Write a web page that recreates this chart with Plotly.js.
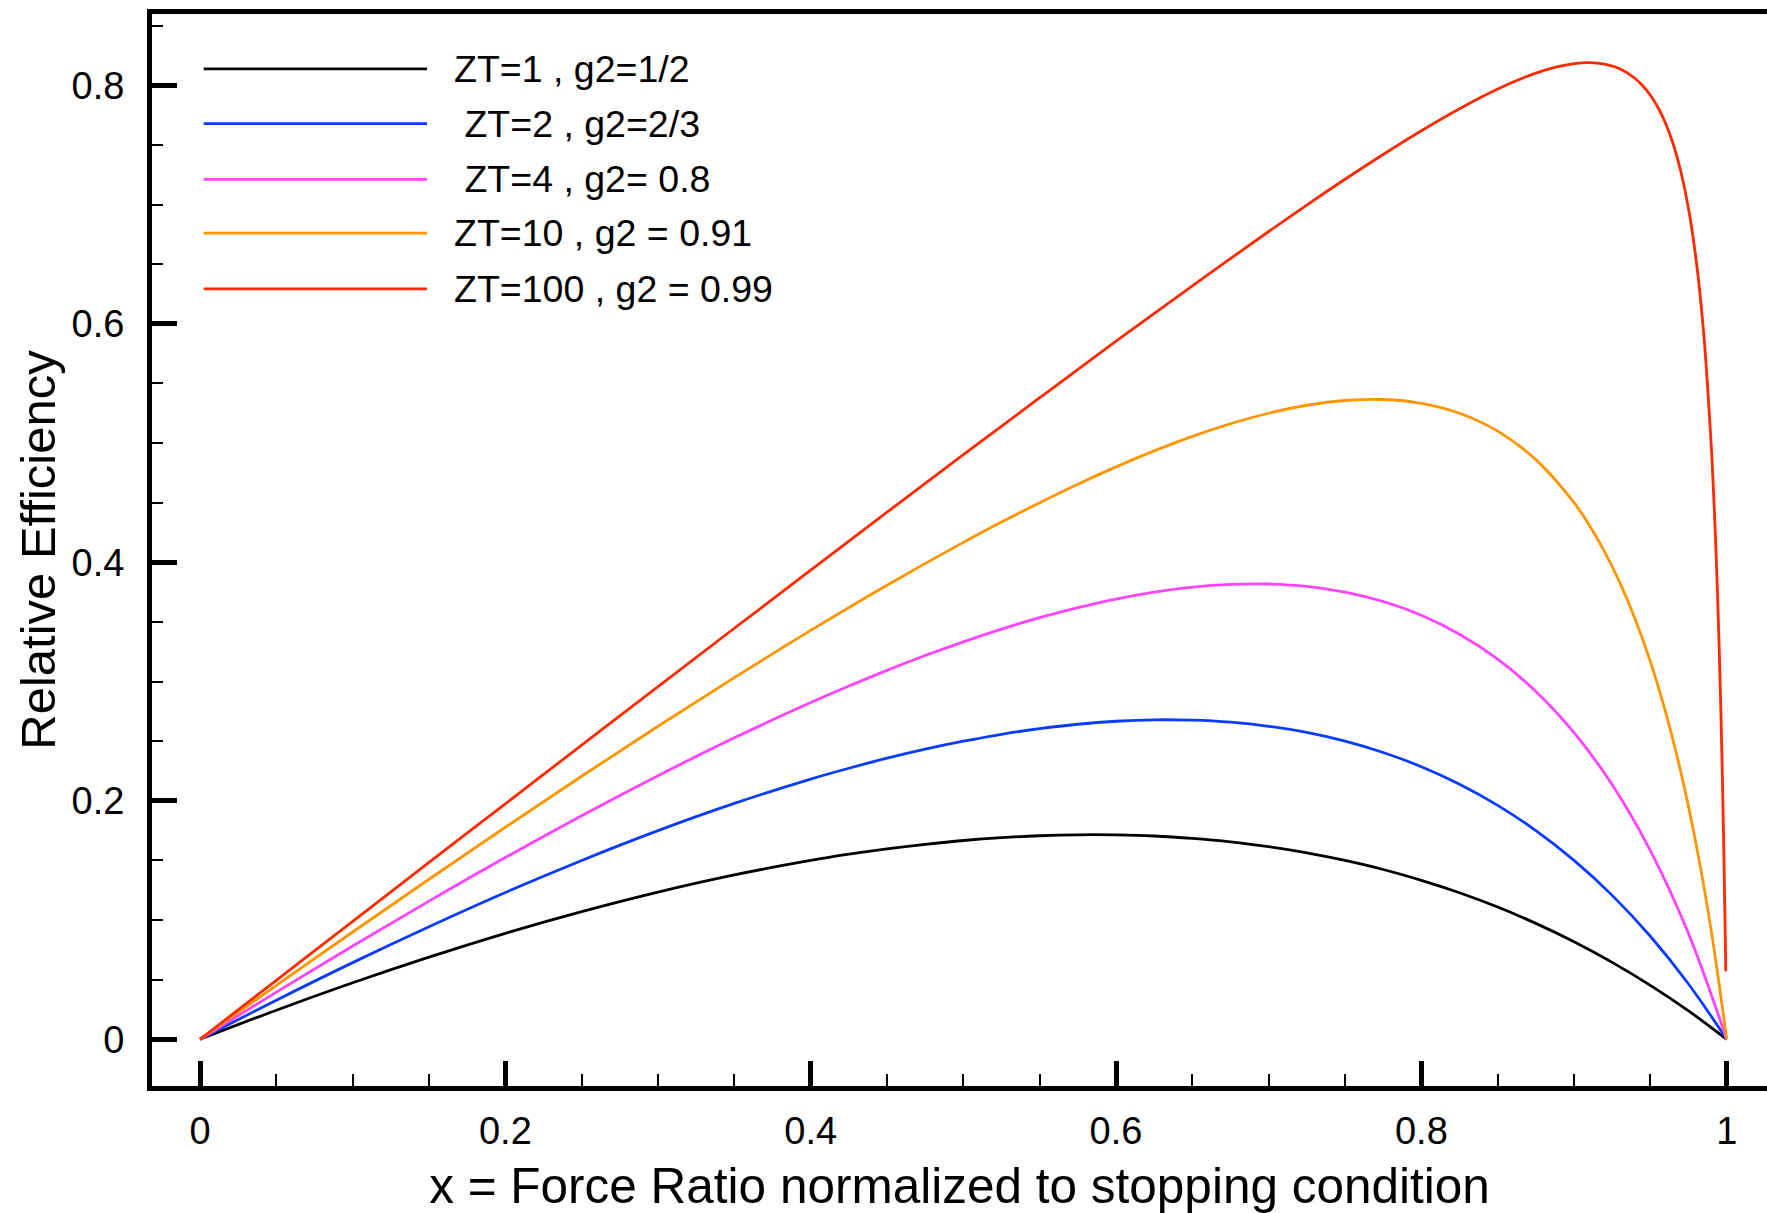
<!DOCTYPE html>
<html>
<head>
<meta charset="utf-8">
<script src="https://cdn.plot.ly/plotly-3.0.1.min.js"></script>
<style>html,body{margin:0;padding:0;background:#fff;}#chart{width:1767px;height:1213px;}</style>
</head>
<body>
<div id="chart"></div>
<script>
// ---- data ----
const xBase = [0,0.05,0.1,0.15,0.2,0.25,0.3,0.35,0.4,0.425,0.45,0.475,0.5,0.525,0.55,0.575,0.6,0.625,0.65,0.675,0.7,0.725,0.75,0.775,0.8,0.825,0.85,0.875,0.9,0.925,0.95,0.975,1];
const effZT1 = [0,0.0244,0.0474,0.0689,0.0889,0.1071,0.1235,0.1379,0.15,0.1552,0.1597,0.1635,0.1667,0.1691,0.1707,0.1715,0.1714,0.1705,0.1685,0.1656,0.1615,0.1564,0.15,0.1424,0.1333,0.1229,0.1109,0.0972,0.0818,0.0645,0.0452,0.0238,0];
const effZT2 = [0,0.0328,0.0643,0.0944,0.1231,0.15,0.175,0.1978,0.2182,0.2273,0.2357,0.2433,0.25,0.2558,0.2605,0.2642,0.2667,0.2679,0.2676,0.2659,0.2625,0.2573,0.25,0.2405,0.2286,0.2139,0.1962,0.175,0.15,0.1207,0.0864,0.0464,0];
const effZT4 = [0,0.0396,0.0783,0.1159,0.1524,0.1875,0.2211,0.2528,0.2824,0.2962,0.3094,0.3218,0.3333,0.344,0.3536,0.362,0.3692,0.375,0.3792,0.3815,0.3818,0.3798,0.375,0.3671,0.3556,0.3397,0.3188,0.2917,0.2571,0.2135,0.1583,0.0886,0];
const xZT10 = [0,0.05,0.1,0.15,0.2,0.25,0.3,0.35,0.4,0.45,0.5,0.525,0.55,0.575,0.6,0.625,0.65,0.675,0.7,0.725,0.75,0.775,0.8,0.825,0.85,0.875,0.9,0.91,0.92,0.93,0.94,0.95,0.96,0.97,0.98,0.99,1];
const effZT10 = [0,0.0452,0.09,0.1342,0.1778,0.2206,0.2625,0.3033,0.3429,0.3808,0.4167,0.4337,0.45,0.4655,0.48,0.4934,0.5056,0.5162,0.525,0.5317,0.5357,0.5365,0.5333,0.525,0.51,0.4861,0.45,0.4311,0.4089,0.3829,0.3525,0.3167,0.2743,0.2238,0.1633,0.09,0];
const xZT100 = [0,0.05,0.1,0.15,0.2,0.25,0.3,0.35,0.4,0.45,0.5,0.55,0.6,0.65,0.7,0.725,0.75,0.775,0.8,0.825,0.85,0.875,0.89,0.9,0.91,0.92,0.93,0.94,0.945,0.95,0.955,0.96,0.965,0.97,0.975,0.98,0.985,0.99,0.991,0.992,0.993,0.994,0.995,0.996,0.997,0.998,0.999,0.9994];
const effZT100 = [0,0.0495,0.0989,0.1483,0.1975,0.2467,0.2958,0.3447,0.3934,0.442,0.4902,0.538,0.5854,0.6319,0.6774,0.6996,0.7212,0.742,0.7619,0.7804,0.7969,0.8102,0.8158,0.8182,0.819,0.8178,0.8138,0.8057,0.7996,0.7917,0.7814,0.768,0.7506,0.7275,0.6964,0.6533,0.591,0.495,0.4694,0.4409,0.4089,0.3728,0.3317,0.2846,0.2301,0.1663,0.0908,0.057];

const seriesNames = ["ZT=1 , g2=1/2", "\u00a0ZT=2 , g2=2/3", "\u00a0ZT=4 , g2= 0.8", "ZT=10 , g2 = 0.91", "ZT=100 , g2 = 0.99"];
const seriesColors = ["#000000", "#0a3cff", "#ff44ff", "#ff9500", "#ff2a00"];
const xTitle = "x = Force Ratio normalized to stopping condition";
const yTitle = "Relative Efficiency";

// ---- plot ----
const xs = [xBase, xBase, xBase, xZT10, xZT100];
const ys = [effZT1, effZT2, effZT4, effZT10, effZT100];
const traces = ys.map((y, i) => ({
  x: xs[i], y: y, type: 'scatter', mode: 'lines', name: seriesNames[i],
  line: {color: seriesColors[i], width: 2.8, shape: 'spline', smoothing: 1},
  showlegend: false, hoverinfo: 'skip'
}));

const font = '"Liberation Sans", Arial, Helvetica, sans-serif';
// legend drawn in paper coordinates
const legY = [0.9489, 0.8978, 0.8457, 0.7955, 0.7435];
const shapes = legY.map((yy, i) => ({
  type: 'line', xref: 'paper', yref: 'paper', x0: 0.032, x1: 0.1703, y0: yy, y1: yy,
  line: {color: seriesColors[i], width: 2.8}
}));
const annotations = legY.map((yy, i) => ({
  xref: 'paper', yref: 'paper', x: 0.1858, y: yy, xanchor: 'left', yanchor: 'middle',
  text: seriesNames[i], showarrow: false, font: {family: font, size: 37.5, color: '#000'}
}));

const layout = {
  width: 1767, height: 1213,
  margin: {l: 152, r: 0, t: 14, b: 127, pad: 0},
  paper_bgcolor: '#fff', plot_bgcolor: '#fff',
  font: {family: font, color: '#000'},
  xaxis: {
    range: [-0.03144, 1.0264], tickmode: 'linear', tick0: 0, dtick: 0.2,
    ticks: 'inside', ticklen: 25, tickwidth: 5, tickcolor: '#000',
    minor: {dtick: 0.05, tick0: 0, ticks: 'inside', ticklen: 12, tickwidth: 2, tickcolor: '#000', showgrid: false},
    showline: true, linewidth: 5, linecolor: '#000', mirror: true,
    showgrid: false, zeroline: false,
    tickfont: {family: font, size: 38, color: '#000'}, ticklabelstandoff: 7,
    title: {text: xTitle, font: {family: font, size: 49.5, color: '#000'}, standoff: 19},
    automargin: false
  },
  yaxis: {
    range: [-0.03916, 0.85979], tickmode: 'linear', tick0: 0, dtick: 0.2,
    ticks: 'inside', ticklen: 25, tickwidth: 5, tickcolor: '#000',
    minor: {dtick: 0.05, tick0: 0, ticks: 'inside', ticklen: 11, tickwidth: 2, tickcolor: '#000', showgrid: false},
    showline: true, linewidth: 5, linecolor: '#000', mirror: false,
    showgrid: false, zeroline: false,
    tickfont: {family: font, size: 38, color: '#000'}, ticklabelstandoff: 15,
    title: {text: yTitle, font: {family: font, size: 49, color: '#000'}, standoff: 2},
    automargin: false
  },
  shapes: shapes,
  annotations: annotations,
  showlegend: false
};

Plotly.newPlot('chart', traces, layout, {staticPlot: true, displayModeBar: false});
</script>
</body>
</html>
